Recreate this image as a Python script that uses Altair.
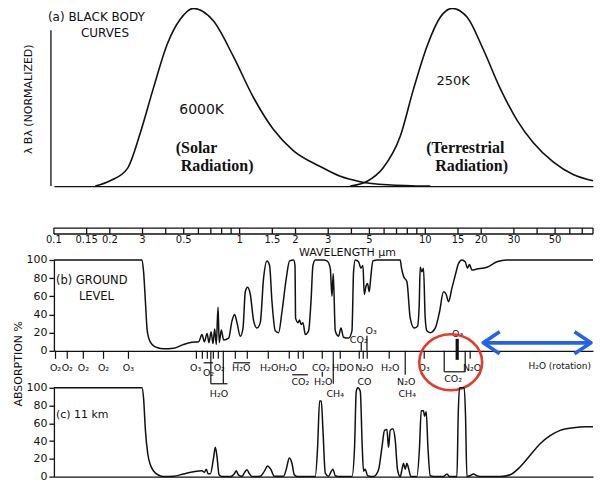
import altair as alt
import pandas as pd

F = "DejaVu Sans"
SERIF = "Liberation Serif"
INK = "#111111"
RED = "#e53a2a"
BLUE = "#2462e6"
W = 540
WL_MAX = 80

# ---------------- (a) black body curves: wavelength (um), normalized lambda*B_lambda
bb6000_wl = [0.167, 0.201, 0.249, 0.292, 0.343, 0.408, 0.480, 0.563, 0.722, 0.925,
             1.185, 1.518, 1.945, 2.719, 3.483, 4.464, 6.236, 10.63]
bb6000_val = [0.0, 0.03, 0.10, 0.30, 0.55, 0.80, 0.94, 1.0, 0.93, 0.73,
              0.50, 0.32, 0.20, 0.11, 0.055, 0.025, 0.008, 0.0]
bb250_wl = [3.943, 4.867, 5.934, 7.328, 8.607, 10.24, 12.03, 13.96, 16.81, 20.50,
            25.30, 31.23, 38.07, 48.80, 62.52, 80.0]
bb250_val = [0.0, 0.027, 0.103, 0.28, 0.54, 0.79, 0.95, 1.0, 0.95, 0.77,
             0.55, 0.37, 0.245, 0.136, 0.065, 0.03]

# ---------------- wavelength strip
strip_ticks = [0.1, 0.15, 0.2, 0.3, 0.4, 0.5, 0.6, 0.7, 0.8, 0.9, 1, 1.5, 2, 3, 4, 5, 6, 7, 8, 9,
               10, 15, 20, 30, 40, 50, 60, 70, 80]
strip_label_wl = [0.1, 0.15, 0.2, 0.3, 0.5, 1, 1.5, 2, 3, 5, 10, 15, 20, 30, 50]
strip_label_txt = ["0.1", "0.15", "0.2", "3", "0.5", "1", "1.5", "2", "3", "5", "10", "15", "20", "30", "50"]
strip_span = [0.1, 80]

# ---------------- (b) ground level absorption (%)
b_wl = [0.1, 0.298, 0.304, 0.311, 0.317, 0.324, 0.338, 0.359, 0.390, 0.441,
        0.499, 0.554, 0.602, 0.627, 0.646, 0.668, 0.684, 0.702, 0.719, 0.734,
        0.749, 0.765, 0.777, 0.797, 0.820, 0.873, 0.910, 0.940, 0.968, 1.009,
        1.043, 1.073, 1.104, 1.142, 1.190, 1.241, 1.292, 1.346, 1.404, 1.450,
        1.494, 1.556, 1.622, 1.691, 1.784, 1.858, 1.953, 1.987, 2.002, 2.063,
        2.103, 2.141, 2.194, 2.258, 2.352, 2.423, 2.483, 2.555, 2.832, 2.954,
        3.077, 3.143, 3.194, 3.274, 3.411, 3.513, 3.628, 3.861, 4.027, 4.108,
        4.195, 4.370, 4.502, 4.616, 4.691, 4.790, 4.886, 4.989, 5.096, 5.224,
        5.489, 7.328, 7.447, 7.634, 7.962, 8.294, 8.716, 9.078, 9.273, 9.387,
        9.587, 9.779, 9.988, 10.20, 10.63, 11.31, 11.93, 12.53, 12.96, 13.33,
        13.91, 14.49, 15.09, 15.74, 16.40, 16.87, 17.30, 17.81, 18.96, 21.46,
        24.29, 27.49, 80]
b_val = [100, 100, 87, 54, 25, 14, 7, 3.6, 2.2, 2.9,
         7, 9.4, 10, 18, 10, 19, 9, 21, 8, 24,
         7, 48, 9, 23, 12, 14, 33, 40, 31, 16,
         25, 65, 70, 62, 33, 25, 31, 80, 99, 94,
         54, 22, 20, 43, 80, 99, 100, 94, 36, 31,
         34, 29, 31, 18, 22, 54, 94, 100, 100, 99,
         91, 60, 85, 22, 16, 25, 15, 14, 22, 87,
         100, 98, 91, 94, 62, 71, 74, 65, 83, 99,
         100, 100, 91, 82, 76, 36, 25, 27, 51, 92,
         87, 91, 36, 22, 20, 25, 43, 65, 62, 54,
         69, 83, 96, 100, 98, 91, 95, 89, 90, 92,
         98, 100, 100]

# ---------------- (c) 11 km absorption (%)
c_wl = [0.1, 0.298, 0.304, 0.311, 0.320, 0.331, 0.345, 0.367, 0.390, 0.441,
        0.499, 0.566, 0.627, 0.646, 0.662, 0.676, 0.696, 0.725, 0.740, 0.756,
        0.775, 0.804, 0.891, 0.937, 0.960, 0.984, 1.030, 1.064, 1.096, 1.128,
        1.166, 1.292, 1.358, 1.415, 1.476, 1.537, 1.725, 1.784, 1.851, 1.914,
        1.970, 2.037, 2.555, 2.630, 2.696, 2.753, 2.811, 2.893, 3.013, 3.115,
        3.181, 3.274, 3.483, 4.027, 4.159, 4.247, 4.338, 4.464, 4.576, 4.650,
        4.749, 4.886, 5.263, 5.600, 5.840, 6.031, 6.213, 6.338, 6.473, 6.693,
        6.887, 7.086, 7.328, 7.512, 7.634, 7.796, 7.962, 8.122, 8.366, 9.011,
        9.307, 9.505, 9.779, 9.901, 10.11, 10.33, 10.63, 11.07, 12.53, 13.07,
        13.50, 14.80, 15.04, 15.28, 16.20, 16.46, 16.75, 17.44, 18.18, 18.96,
        20.17, 25.30, 28.64, 32.42, 36.69, 41.53, 47.01, 53.21, 62.76, 74.10,
        80]
c_val = [100, 100, 88, 52, 26, 13, 6, 1.5, 0, 0.4,
         3, 5.5, 6.6, 4.8, 8.4, 3.3, 3.3, 22, 33, 22,
         2, 0, 0, 3.3, 6.6, 2, 0.4, 4.8, 7.7, 3.3,
         0, 0.4, 5.9, 12, 7.7, 0.4, 0.4, 8.4, 21, 15,
         2, 0, 0, 33, 85, 85, 52, 4, 0.4, 5.9,
         8.4, 1, 0, 0, 33, 96, 100, 96, 33, 6,
         8.4, 1, 0, 7.7, 33, 52, 53, 33, 52, 54,
         41, 7.7, 0, 9.5, 15, 8.4, 15, 9.5, 0, 0,
         33, 74, 74, 68, 73, 33, 1, 0, 0, 3,
         0, 0, 70, 100, 100, 70, 0, 1, 3, 1,
         0, 0, 2, 11, 24, 37, 46, 52, 55, 56,
         56]

# ---------------- absorber annotations (wavelengths, um)
tick_wl = [0.102, 0.118, 0.144, 0.185, 0.252, 0.585, 0.630, 0.670, 0.722, 0.768,
           0.948, 1.100, 1.427, 1.851, 2.070, 2.202, 2.787, 3.483, 4.408, 4.632,
           4.867, 6.393, 9.865, 17.44]
long_tick_wl = [0.70, 0.817, 3.194]
mid_tick_wl = [7.796]
link_tick_wl = [2.787]
row1_txt = ["O₂", "O₂", "O₂", "O₂", "O₃", "O₃", "O₂", "H₂O", "H₂O", "H₂O", "CO₂", "HDO", "N₂O", "H₂O", "O₃", "N₂O"]
row1_wl = [0.102, 0.118, 0.144, 0.185, 0.252, 0.580, 0.777, 1.021, 1.445, 1.817, 2.74, 3.60, 4.70, 6.473, 9.865, 17.88]
row1b_txt = ["O₂"]
row1b_wl = [0.680]
row2_txt = ["CO₂", "H₂O", "CO", "N₂O"]
row2_wl = [2.123, 2.82, 4.70, 7.893]
row3_txt = ["H₂O", "CH₄", "CH₄"]
row3_wl = [0.774, 3.274, 7.99]
bracket_hi = [(0.640, 0.720), (0.924, 1.14)]
bracket_mid = [(1.92, 2.33)]
bracket_low = [(0.70, 0.86)]
co2_bracket = [(12.64, 16.4)]
co2_label_txt = ["CO₂"]
co2_label_wl = [14.13]
above_lo_txt = ["CO₂"]
above_lo_wl = [4.381]
above_hi_txt = ["O₃"]
above_hi_wl = [5.114]
o3_15_txt = ["O₃"]
o3_15_wl = [14.94]
above_short_bar = [4.519]
above_long_bar = [4.85]
o3_bar = [14.85]
circle_wl = [13.70]
arrow_span = [(20.5, 78.0)]
rotation_txt = ["H₂O (rotation)"]
rotation_wl = [36.0]

xs = alt.Scale(type="log", domain=[0.1, WL_MAX], nice=False)
base_x_axis = alt.Axis(title=None, labels=False, ticks=False, domain=True, grid=False)


def X(axis=None):
    return alt.X("wl:Q", scale=xs, axis=axis)


def note(text, x, y, size=11, font=F, align="left", weight="normal", angle=0):
    return alt.Chart(pd.DataFrame({"t": [text]})).mark_text(
        font=font, fontSize=size, align=align, baseline="middle", color=INK, fontWeight=weight,
        angle=angle,
    ).encode(x=alt.value(x), y=alt.value(y), text="t:N")


def labels(wl, txt, y, size=9.5, align="center"):
    return alt.Chart(pd.DataFrame({"wl": wl, "t": txt})).mark_text(
        font=F, fontSize=size, align=align, baseline="middle", color=INK
    ).encode(x=X(), y=alt.value(y), text="t:N")


def vticks(wl, y0, y1, width=1.2, color=INK):
    return alt.Chart(pd.DataFrame({"wl": wl})).mark_rule(color=color, strokeWidth=width).encode(
        x=X(), y=alt.value(y0), y2=alt.value(y1))


def hspans(pairs, y, width=1.2, color=INK):
    d = pd.DataFrame({"wl": [p[0] for p in pairs], "wl2": [p[1] for p in pairs]})
    return alt.Chart(d).mark_rule(color=color, strokeWidth=width).encode(
        x=X(), x2="wl2:Q", y=alt.value(y))


# ---------------- panel (a)
HA = 178
bbA = pd.DataFrame({
    "wl": bb6000_wl + bb250_wl,
    "v": bb6000_val + bb250_val,
    "T": ["6000K"] * len(bb6000_wl) + ["250K"] * len(bb250_wl),
})
a_line = alt.Chart(bbA).mark_line(color=INK, strokeWidth=1.6, interpolate="monotone").encode(
    x=X(base_x_axis),
    y=alt.Y("v:Q", scale=alt.Scale(domain=[0, 1], nice=False), axis=None),
    detail="T:N",
)
a_axis = alt.Chart(pd.DataFrame({"k": [0]})).mark_rule(color=INK, strokeWidth=1.3).encode(
    x=alt.value(-3), y=alt.value(22), y2=alt.value(HA))
A = alt.layer(
    a_line, a_axis,
    note("λ Bλ (NORMALIZED)", -25, 91, size=11, align="center", angle=270),
    note("(a) BLACK BODY", -6, 9, size=12),
    note("CURVES", 27, 25, size=12),
    note("6000K", 148, 102, size=14, align="center"),
    note("(Solar", 122, 140, size=16, font=SERIF, weight="bold"),
    note("Radiation)", 127, 158, size=16, font=SERIF, weight="bold"),
    note("250K", 400, 73, size=13, align="center"),
    note("(Terrestrial", 373, 140, size=16, font=SERIF, weight="bold"),
    note("Radiation)", 382, 158, size=16, font=SERIF, weight="bold"),
).properties(width=W, height=HA)

# ---------------- wavelength strip
WS = alt.layer(
    hspans([tuple(strip_span)], 42, width=1.3),
    hspans([tuple(strip_span)], 48, width=1.3),
    vticks(strip_ticks, 42, 48, width=1.3),
    labels(strip_label_wl, strip_label_txt, 54, size=10),
    note("WAVELENGTH µm", 294, 67, size=11, align="center"),
).properties(width=W, height=74)

# ---------------- panel (b)
b_line = alt.Chart(pd.DataFrame({"wl": b_wl, "v": b_val})).mark_line(
    color=INK, strokeWidth=1.5, interpolate="monotone").encode(
    x=X(base_x_axis),
    y=alt.Y("v:Q", scale=alt.Scale(domain=[0, 100], nice=False),
            axis=alt.Axis(values=[0, 20, 40, 60, 80, 100], title=None,
                          tickSize=5, labelPadding=2, labelFontSize=11, grid=False)),
)
B = alt.layer(
    b_line,
    note("ABSORPTION %", -34.5, 104, size=11, align="center", angle=270),
    note("(b) GROUND", 2, 21, size=11.5),
    note("LEVEL", 25, 37, size=11.5),
).properties(width=W, height=91)

# ---------------- absorber strip
ellipse_path = "M -1 0 A 1 0.89 0 1 1 1 0 A 1 0.89 0 1 1 -1 0 Z"
ring = alt.Chart(pd.DataFrame({"wl": circle_wl})).mark_point(
    shape=ellipse_path, size=3969, filled=False, stroke=RED, strokeWidth=2.6, opacity=1,
    strokeJoin="round").encode(x=X(), y=alt.value(11.5))
arrow_df = pd.DataFrame({"wl": [arrow_span[0][0]], "wl2": [arrow_span[0][1]]})
arrow_line = alt.Chart(arrow_df).mark_rule(color=BLUE, strokeWidth=3.6).encode(
    x=X(), x2="wl2:Q", y=alt.value(-8))
head_l = alt.Chart(pd.DataFrame({"wl": [arrow_span[0][0]]})).mark_point(
    shape="M 1.5 -1 L 0 0 L 1.5 1", size=484, filled=False, stroke=BLUE, strokeWidth=3.6,
    opacity=1, strokeJoin="round").encode(x=X(), y=alt.value(-8))
head_r = alt.Chart(pd.DataFrame({"wl": [arrow_span[0][1]]})).mark_point(
    shape="M -1.5 -1 L 0 0 L -1.5 1", size=484, filled=False, stroke=BLUE, strokeWidth=3.6,
    opacity=1, strokeJoin="round").encode(x=X(), y=alt.value(-8))
rotation = labels(rotation_wl, rotation_txt, 15, size=9, align="left")

M = alt.layer(
    vticks(tick_wl, 0, 8),
    vticks(long_tick_wl, 0, 33),
    vticks(mid_tick_wl, 0, 24),
    vticks(link_tick_wl, 21, 26),
    vticks([co2_bracket[0][0], co2_bracket[0][1]], 0, 21),
    hspans(co2_bracket, 21),
    hspans(bracket_hi, 12),
    hspans(bracket_mid, 24),
    hspans(bracket_low, 33),
    vticks(above_short_bar, -8, 0),
    vticks(above_long_bar, -15, 0),
    vticks(o3_bar, -12, 9, width=3.2),
    labels(row1_wl, row1_txt, 17),
    labels(row1b_wl, row1b_txt, 22),
    labels(row2_wl, row2_txt, 31),
    labels(row3_wl, row3_txt, 43),
    labels(co2_label_wl, co2_label_txt, 28),
    labels(above_lo_wl, above_lo_txt, -11),
    labels(above_hi_wl, above_hi_txt, -20),
    labels(o3_15_wl, o3_15_txt, -17),
    ring, arrow_line, head_l, head_r, rotation,
).properties(width=W, height=37)

# ---------------- panel (c)
c_line = alt.Chart(pd.DataFrame({"wl": c_wl, "v": c_val})).mark_line(
    color=INK, strokeWidth=1.5, interpolate="monotone").encode(
    x=X(base_x_axis),
    y=alt.Y("v:Q", scale=alt.Scale(domain=[0, 100], nice=False),
            axis=alt.Axis(values=[0, 20, 40, 60, 80, 100], title=None,
                          tickSize=5, labelPadding=2, labelFontSize=11, grid=False)),
)
C = alt.layer(
    c_line,
    note("(c)   11 km", 2, 27, size=11),
).properties(width=W, height=89)

chart = alt.vconcat(A, WS, B, M, C, spacing=0, bounds="flush").properties(
    padding={"left": 5, "top": -4, "right": -3, "bottom": 0}
).configure_view(stroke=None).configure_axis(
    domainColor=INK, tickColor=INK, labelColor=INK, titleColor=INK,
    labelFont=F, titleFont=F, domainWidth=1.3, tickWidth=1.3, grid=False,
)

chart.save("out.html", embed_options={"renderer": "svg", "actions": False})
